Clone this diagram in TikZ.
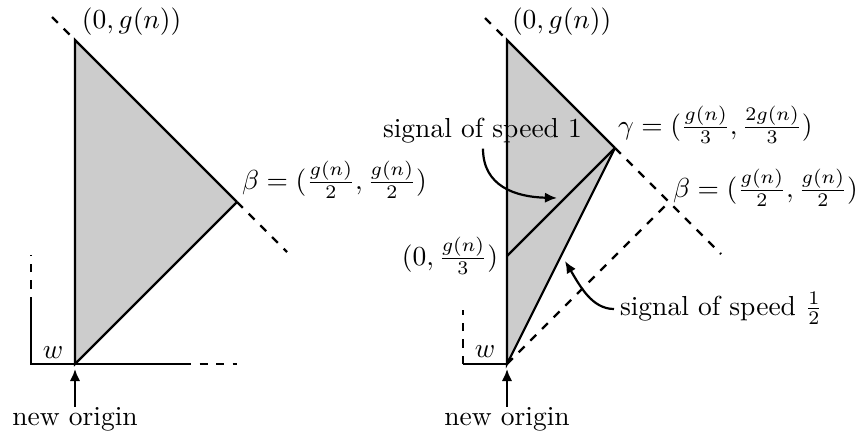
\documentclass[tikz,border=0pt]{standalone}
\usetikzlibrary{arrows.meta}
\begin{document}
\begin{tikzpicture}[x=0.3636pt,y=-0.3636pt,
  ln/.style={line width=0.8pt,line join=miter},
  dsh/.style={line width=0.8pt,dashed},
  pointer/.style={-{Latex[length=4.4pt,width=3.8pt]},line width=0.8pt},
  lbl/.style={inner sep=0pt,outer sep=0pt},
  shade/.style={fill=black!20}]
\useasboundingbox (0,0) rectangle (860,441);
% ---------- left figure ----------
\coordinate (O1) at (75,364);
\coordinate (T1) at (75,40);
\coordinate (B1) at (237,202);
\coordinate (T1e) at (52,17);
\coordinate (B1e) at (287,252);
\coordinate (H1a) at (31,364);
\coordinate (H1b) at (183,364);
\coordinate (H1c) at (237,364);
\coordinate (V1b) at (31,305);
\coordinate (V1c) at (31,255);
\fill[shade] (O1) -- (T1) -- (B1) -- cycle;
\draw[ln] (B1) -- (O1) -- (T1) -- (B1);
\draw[dsh] (T1e) -- (T1);
\draw[dsh] (B1) -- (B1e);
\draw[ln] (V1b) -- (H1a) -- (H1b);
\draw[dsh] (H1b) -- (H1c);
\draw[dsh] (V1b) -- (V1c);
\node[lbl,anchor=base west] (lT1) at (82,28) {$(0,g(n))$};
\node[lbl,anchor=base west] (lB1) at (242,189) {$\beta=(\frac{g(n)}{2},\frac{g(n)}{2})$};
\node[lbl,anchor=base] (w1) at (53,358) {$w$};
\node[lbl,anchor=base] (no1) at (75,425) {new origin};
\draw[pointer,shorten >=1.8pt] (no1.north) -- (O1);
% ---------- right figure ----------
\coordinate (O2) at (507,364);
\coordinate (T2) at (507,40);
\coordinate (G2) at (615,148);
\coordinate (B2) at (669,202);
\coordinate (M2) at (507,256);
\coordinate (T2e) at (485,18);
\coordinate (B2e) at (721,254);
\coordinate (H2a) at (463,364);
\coordinate (V2c) at (463,310);
\fill[shade] (O2) -- (T2) -- (G2) -- cycle;
\draw[dsh] (O2) -- (B2);
\draw[dsh] (G2) -- (B2e);
\draw[dsh] (T2e) -- (T2);
\draw[ln] (G2) -- (O2) -- (T2) -- (G2);
\draw[ln] (M2) -- (G2);
\draw[ln] (H2a) -- (O2);
\draw[dsh] (H2a) -- (V2c);
\node[lbl,anchor=base west] (lT2) at (512,28) {$(0,g(n))$};
\node[lbl,anchor=base west] (lG2) at (618,134) {$\gamma=(\frac{g(n)}{3},\frac{2g(n)}{3})$};
\node[lbl,anchor=base west] (lB2) at (673,197) {$\beta=(\frac{g(n)}{2},\frac{g(n)}{2})$};
\node[lbl,anchor=base east] (lM2) at (498,265) {$(0,\frac{g(n)}{3})$};
\node[lbl,anchor=base] (w2) at (485,357) {$w$};
\node[lbl,anchor=base] (no2) at (507,425) {new origin};
\draw[pointer,shorten >=1.8pt] (no2.north) -- (O2);
\node[lbl,anchor=base west] (s1) at (383,137) {signal of speed 1};
\node[lbl,anchor=base west] (s2) at (620,315) {signal of speed $\frac{1}{2}$};
\coordinate (s1tip) at (557,198);
\coordinate (s2tip) at (565,261);
\draw[pointer] ([shift={(100,6)}]s1.south west) .. controls (483,186) and (515,197) .. (s1tip);
\draw[pointer] ([shift={(-6,-6)}]s2.base west) .. controls (592,309) and (580,286) .. (s2tip);
\end{tikzpicture}
\end{document}
